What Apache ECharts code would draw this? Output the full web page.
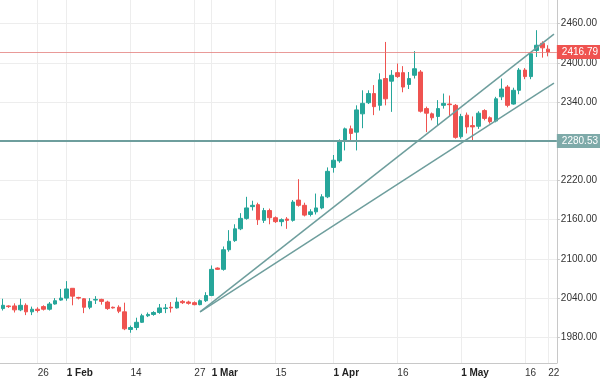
<!DOCTYPE html>
<html><head><meta charset="utf-8">
<script src="https://cdn.jsdelivr.net/npm/echarts@6/dist/echarts.min.js"></script>
<style>html,body{margin:0;padding:0;background:#fff}#c{width:600px;height:381px}</style>
</head><body><div id="c"></div>
<script>
// OHLC values, one per daily candle
const opens  = [2024,2028,2028,2022,2029,2019,2023,2027,2023,2031,2037,2040,2055,2041,2039,2026,2037,2038,2034,2026,
                2026,2019,1992,1995,2003,2013,2015,2018,2024,2026,2025,2035,2034,2033,2030,2036,2044,2086,2084,2114,
                2128,2146,2162,2180,2183,2159,2174,2163,2157,2161,2159,2190,2182,2168,2172,2178,2195,2240,2250,2281,
                2299,2294,2322,2339,2353,2335,2376,2372,2385,2385,2367,2381,2386,2330,2322,2318,2335,2337,2335,2287,
                2320,2304,2303,2327,2316,2311,2348,2363,2337,2358,2389,2379,2419,2430,2421];
const closes = [2029,2027,2022,2029,2019,2023,2021,2023,2031,2036,2040,2054,2043,2040,2026,2035,2038,2035,2024,2025,
                2020,1993,1995,2003,2013,2015,2018,2025,2025,2025,2034,2033,2032,2030,2036,2044,2084,2084,2114,2127,
                2146,2162,2178,2182,2160,2174,2163,2157,2160,2159,2187,2182,2167,2172,2178,2195,2234,2251,2281,2299,
                2292,2328,2338,2353,2333,2374,2345,2381,2379,2363,2376,2391,2326,2323,2316,2330,2338,2336,2286,2318,
                2302,2302,2323,2315,2310,2345,2360,2335,2358,2389,2379,2414,2427,2423,2416.79];
const lows   = [2021,2025,2018,2020,2014,2014,2018,2021,2021,2030,2036,2036,2029,2038,2017,2023,2031,2030,2022,2024,
                2017,1991,1987,1991,2002,2011,2013,2016,2017,2018,2024,2031,2030,2029,2029,2034,2043,2083,2082,2111,
                2126,2144,2160,2174,2152,2155,2153,2155,2150,2146,2157,2180,2165,2165,2168,2176,2193,2232,2247,2266,
                2282,2266,2300,2337,2320,2327,2335,2325,2377,2355,2360,2376,2324,2294,2312,2304,2330,2318,2284,2284,
                2292,2279,2299,2312,2307,2309,2343,2332,2336,2352,2375,2375,2409,2408,2410];
const highs  = [2039,2029,2032,2039,2032,2027,2026,2029,2034,2040,2054,2066,2055,2042,2040,2040,2043,2039,2036,2027,
                2029,2033,1998,2010,2016,2018,2020,2031,2031,2034,2041,2037,2036,2035,2038,2049,2090,2087,2119,2144,
                2153,2170,2195,2189,2186,2178,2177,2165,2162,2164,2190,2222,2186,2176,2200,2199,2240,2259,2283,2301,
                2304,2335,2358,2358,2366,2384,2432,2389,2399,2395,2386,2418,2389,2333,2324,2343,2353,2350,2337,2322,
                2324,2318,2326,2329,2318,2348,2376,2366,2362,2392,2392,2416,2450,2433,2427];
const slotCount = 96; // 95 candles + one empty slot on the right
const tickIndex  = [6, 11, 22, 33, 36, 47, 57, 68, 79, 90, 94];
const tickLabels = ['26', '1 Feb', '14', '27', '1 Mar', '15', '1 Apr', '16', '1 May', '16', '22'];
const monthLabels = ['1 Feb', '1 Mar', '1 Apr', '1 May'];
const yTicks = [1980, 2040, 2100, 2160, 2220, 2280, 2340, 2400, 2460];
const yMin = 1940.7, yMax = 2496.2;
const priceLine = 2416.79;
const levelLine = 2280.53;
const trendUpper = [[34, 2019], [95, 2444]];
const trendLower = [[34, 2019], [95, 2369]];

const categories = Array.from({length: slotCount}, (_, i) => String(i));
const candles = opens.map((o, i) => [o, closes[i], lows[i], highs[i]]);
const showTick = (i) => tickIndex.indexOf(i) >= 0;
const toLine = (arr) => arr.map(p => [String(p[0]), p[1]]);

const chart = echarts.init(document.getElementById('c'), null, {renderer: 'canvas'});
const font = 'Liberation Sans, Arial, sans-serif';
chart.setOption({
  animation: false,
  backgroundColor: '#ffffff',
  grid: {left: 0, top: 0, width: 559, height: 363, containLabel: false},
  xAxis: {
    type: 'category', data: categories, boundaryGap: true,
    axisLine: {show: true, lineStyle: {color: '#c8c8c8', width: 1}},
    axisTick: {show: false},
    splitLine: {show: true, alignWithLabel: true, interval: (i) => showTick(i), lineStyle: {color: '#ededed', width: 1}},
    axisLabel: {
      show: true, interval: (i) => showTick(i), margin: 5, fontSize: 10, fontFamily: font, color: '#333',
      align: 'left',
      formatter: (v, i) => {
        const k = tickIndex.indexOf(Number(v));
        if (k < 0) return '';
        const t = tickLabels[k];
        return monthLabels.indexOf(t) >= 0 ? '{b|' + t + '}' : t;
      },
      rich: {b: {fontWeight: 'bold', fontSize: 10, fontFamily: font, color: '#222'}}
    }
  },
  yAxis: {
    type: 'value', position: 'right', min: yMin, max: yMax, scale: true,
    axisLine: {show: true, lineStyle: {color: '#c8c8c8', width: 1}},
    axisTick: {show: true, length: 3, customValues: yTicks, lineStyle: {color: '#c8c8c8'}},
    splitLine: {show: true, lineStyle: {color: '#ededed', width: 1}},
    axisLabel: {
      customValues: yTicks, margin: 4, fontSize: 10, fontFamily: font, color: '#333',
      formatter: (v) => Math.abs(v - 2280) < 0.01 ? '' : v.toFixed(2)
    }
  },
  series: [
    {
      type: 'candlestick', data: candles, barWidth: 4,
      itemStyle: {color: '#26a69a', color0: '#ef5350', borderColor: '#26a69a', borderColor0: '#ef5350', borderWidth: 1},
      markLine: {
        silent: true, symbol: ['none', 'none'], animation: false,
        data: [
          {yAxis: priceLine, lineStyle: {color: 'rgba(226,120,118,0.75)', width: 1, type: 'solid'},
           label: {show: true, position: 'end', distance: 0, formatter: priceLine.toFixed(2), color: '#fff',
                   backgroundColor: '#ef5350', padding: [2, 6, 2, 5], fontSize: 10, fontFamily: font}},
          {yAxis: levelLine, lineStyle: {color: '#6e9e9d', width: 2, type: 'solid'},
           label: {show: true, position: 'end', distance: 0, formatter: levelLine.toFixed(2), color: '#fff',
                   backgroundColor: '#7eaaa9', padding: [2, 6, 2, 5], fontSize: 10, fontFamily: font}}
        ]
      }
    },
    {type: 'line', data: toLine(trendUpper), showSymbol: false, symbol: 'none', clip: true,
     lineStyle: {color: '#6e9e9d', width: 1.5}, z: 3},
    {type: 'line', data: toLine(trendLower), showSymbol: false, symbol: 'none', clip: true,
     lineStyle: {color: '#6e9e9d', width: 1.5}, z: 3}
  ]
});
</script></body></html>
